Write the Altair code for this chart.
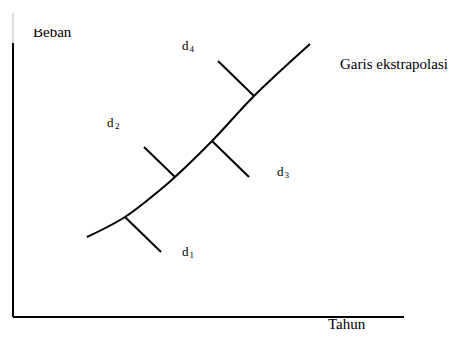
import altair as alt
import pandas as pd

# Curve (extrapolation line): Tahun vs Beban, in arbitrary units
curve_x = [74, 112, 147, 162, 199, 241, 297]
curve_y = [80, 100, 127, 140, 176, 221, 273]

# Deviation segments d1..d4 (start on/near curve, end off the curve)
dev_names = ["d1", "d2", "d3", "d4"]
dev_x1 = [112, 131, 199, 205]
dev_y1 = [100, 170, 176, 256]
dev_x2 = [148, 162, 236, 241]
dev_y2 = [65, 140, 140, 221]

# Labels d with subscripts
lab_main = ["d", "d", "d", "d"]
lab_sub = ["1", "2", "3", "4"]
lab_x = [169, 94, 264, 169]
lab_y = [61, 190, 141, 267]
sub_x = [176.5, 102, 271.5, 176.5]
sub_y = [59, 188.5, 139.5, 265]

# Axis titles and annotation
txt = ["Tahun", "Garis ekstrapolasi"]
txt_x = [315, 327]
txt_y = [-12, 248]
top_txt = ["Beban"]
top_x = [20]
top_y = [280]

# Axis extents
yaxis_top = 274
yaxis_ext_top = 304
xaxis_right = 391

XS = alt.Scale(domain=[-5, 442], nice=False, zero=False)
YS = alt.Scale(domain=[-16, 288], nice=False, zero=False)

def X(f="x"):
    return alt.X(f"{f}:Q", scale=XS, axis=None)

def Y(f="y"):
    return alt.Y(f"{f}:Q", scale=YS, axis=None)

curve_df = pd.DataFrame({"x": curve_x, "y": curve_y})
dev_df = pd.DataFrame({"n": dev_names, "x": dev_x1, "y": dev_y1, "x2": dev_x2, "y2": dev_y2})
lab_df = pd.DataFrame({"t": lab_main, "x": lab_x, "y": lab_y})
sub_df = pd.DataFrame({"t": lab_sub, "x": sub_x, "y": sub_y})
txt_df = pd.DataFrame({"t": txt, "x": txt_x, "y": txt_y})
top_df = pd.DataFrame({"t": top_txt, "x": top_x, "y": top_y})
axes_df = pd.DataFrame({
    "x": [0, 0], "y": [0, 0], "x2": [0, xaxis_right], "y2": [yaxis_top, 0]
})
ext_df = pd.DataFrame({"x": [0], "y": [yaxis_top], "x2": [0], "y2": [yaxis_ext_top]})

FONT = "Liberation Serif"

axes = alt.Chart(axes_df).mark_rule(color="black", strokeWidth=2).encode(
    x=X(), y=Y(), x2="x2:Q", y2="y2:Q")
ext = alt.Chart(ext_df).mark_rule(color="#bbbbbb", strokeWidth=1).encode(
    x=X(), y=Y(), x2="x2:Q", y2="y2:Q")
curve = alt.Chart(curve_df).mark_line(color="black", strokeWidth=2, interpolate="catmull-rom").encode(
    x=X(), y=Y(), order="x:Q")
devs = alt.Chart(dev_df).mark_rule(color="black", strokeWidth=2).encode(
    x=X(), y=Y(), x2="x2:Q", y2="y2:Q")
labs = alt.Chart(lab_df).mark_text(font=FONT, fontSize=13, align="left", baseline="alphabetic", color="black").encode(
    x=X(), y=Y(), text="t:N")
subs = alt.Chart(sub_df).mark_text(font=FONT, fontSize=9, align="left", baseline="alphabetic", color="black").encode(
    x=X(), y=Y(), text="t:N")
txts = alt.Chart(txt_df).mark_text(font=FONT, fontSize=15, align="left", baseline="alphabetic", color="black").encode(
    x=X(), y=Y(), text="t:N")
tops = alt.Chart(top_df).mark_text(font=FONT, fontSize=15, align="left", baseline="alphabetic", color="black", clip=True).encode(
    x=X(), y=Y(), text="t:N")

chart = alt.layer(ext, axes, curve, devs, labs, subs, txts, tops).properties(
    width=447, height=304, padding={"top": 21, "left": 0, "right": 0, "bottom": 0}, autosize="none"
).configure_view(stroke=None)

chart.save("out.html", embed_options={"renderer": "svg", "actions": False})
